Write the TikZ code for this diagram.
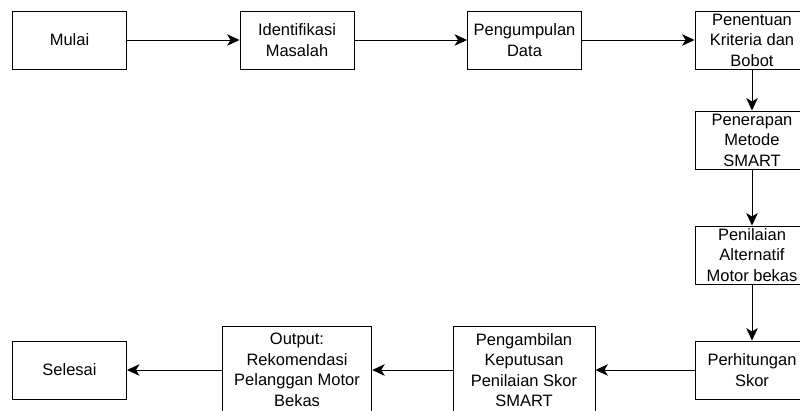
\documentclass[tikz,border=0pt]{standalone}
\usepackage{fontspec}
\setmainfont{Liberation Sans}
\usetikzlibrary{arrows.meta, positioning}

\begin{document}
\begin{tikzpicture}[x=1pt, y=-1pt,
  box/.style={draw, line width=0.9pt, minimum width=114pt, minimum height=58pt,
    inner sep=0pt, align=center, font=\fontsize{16.5}{20.5}\selectfont},
  flow/.style={line width=0.9pt, -{Stealth[length=12.5pt, width=11.5pt, inset=3.5pt]}}]
\useasboundingbox (0,0) rectangle (800,410);
% Top row
\node[box] (mulai) at (69.5,40) {Mulai};
\node[box] (identifikasi) at (297,40) {Identifikasi\\Masalah};
\node[box] (pengumpulan) at (524.5,40) {Pengumpulan\\Data};
\node[box] (kriteria) at (752,40) {Penentuan\\Kriteria dan\\Bobot};
% Right column
\node[box] (penerapan) at (752,140) {Penerapan\\Metode\\SMART};
\node[box] (penilaian) at (752,255) {Penilaian\\Alternatif\\Motor bekas};
\node[box] (perhitungan) at (752,370) {Perhitungan\\Skor};
% Bottom row
\node[box, minimum width=142pt, minimum height=88pt] (keputusan) at (524,370)
  {Pengambilan\\Keputusan\\Penilaian Skor\\SMART};
\node[box, minimum width=149.5pt, minimum height=88pt] (output) at (297,370)
  {Output:\\Rekomendasi\\Pelanggan Motor\\Bekas};
\node[box] (selesai) at (69.5,370) {Selesai};
% Arrows
\draw[flow] (mulai) -- (identifikasi);
\draw[flow] (identifikasi) -- (pengumpulan);
\draw[flow] (pengumpulan) -- (kriteria);
\draw[flow] (kriteria) -- (penerapan);
\draw[flow] (penerapan) -- (penilaian);
\draw[flow] (penilaian) -- (perhitungan);
\draw[flow] (perhitungan) -- (keputusan);
\draw[flow] (keputusan) -- (output);
\draw[flow] (output) -- (selesai);
\end{tikzpicture}
\end{document}
